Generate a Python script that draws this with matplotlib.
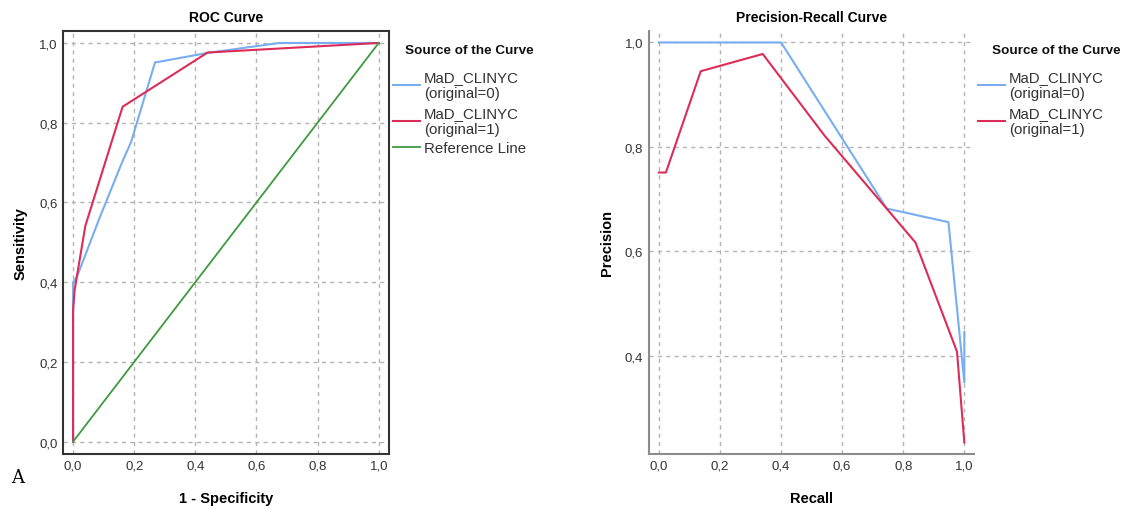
import matplotlib
matplotlib.use("Agg")
import matplotlib.pyplot as plt

plt.rcParams['font.family'] = ['Liberation Sans', 'DejaVu Sans']

# ---------------- data ----------------
roc_blue_x = [0.0, 0.0, 0.014, 0.085, 0.16, 0.19, 0.268, 0.44, 0.675, 1.0]
roc_blue_y = [0.0, 0.40, 0.416, 0.558, 0.70, 0.752, 0.951, 0.975, 1.0, 1.0]
roc_red_x = [0.0, 0.0, 0.005, 0.04, 0.162, 0.44, 1.0]
roc_red_y = [0.0, 0.33, 0.38, 0.541, 0.840, 0.976, 1.0]
ref_x = [0.0, 1.0]
ref_y = [0.0, 1.0]

pr_blue_x = [0.0, 0.40, 0.746, 0.948, 1.0, 1.0]
pr_blue_y = [1.0, 1.0, 0.682, 0.656, 0.349, 0.446]
pr_red_x = [0.0, 0.023, 0.137, 0.34, 0.542, 0.84, 0.976, 1.0]
pr_red_y = [0.751, 0.751, 0.945, 0.978, 0.822, 0.617, 0.408, 0.234]

ticks_roc = [0.0, 0.2, 0.4, 0.6, 0.8, 1.0]
tick_labels_roc = ["0,0", "0,2", "0,4", "0,6", "0,8", "1,0"]
yticks_pr = [0.4, 0.6, 0.8, 1.0]
ytick_labels_pr = ["0,4", "0,6", "0,8", "1,0"]

label_blue = "MaD_CLINYC\n(original=0)"
label_red = "MaD_CLINYC\n(original=1)"
label_ref = "Reference Line"
legend_title = "Source of the Curve"

c_blue = "#78aef0"
c_red = "#dc2c58"
c_green = "#3f9a3f"
c_grid = "#b4b4b4"

W, H = 1122, 510
fig = plt.figure(figsize=(W / 100, H / 100), dpi=100)

def style(ax):
    ax.grid(True, color=c_grid, linestyle=(0, (3, 3)), linewidth=1.0)
    ax.set_axisbelow(True)
    ax.tick_params(length=0, labelsize=9.5, colors="#333333", pad=4)

def legend(ax, handles_x, title_x):
    leg = ax.legend(loc="upper left",
                    bbox_to_anchor=(handles_x / W, 1 - 71 / H),
                    bbox_transform=fig.transFigure, frameon=False,
                    fontsize=10.8, handlelength=1.8, handletextpad=0.25,
                    labelspacing=0.35, borderaxespad=0, borderpad=0)
    for t in leg.get_texts():
        t.set_linespacing(1.22)
        t.set_color("#333333")
    fig.text(title_x / W, 1 - 51 / H, legend_title, fontsize=9.7,
             fontweight="bold", ha="left", va="center", color="#111111")
    return leg

# ROC
ax1 = fig.add_axes([63 / W, 55 / H, 325.5 / W, 423 / H])
ax1.plot(roc_blue_x, roc_blue_y, color=c_blue, lw=1.5, label=label_blue)
ax1.plot(roc_red_x, roc_red_y, color=c_red, lw=1.5, label=label_red)
ax1.plot(ref_x, ref_y, color=c_green, lw=1.3, label=label_ref)
ax1.set_xlim(-0.033, 1.032)
ax1.set_ylim(-0.031, 1.030)
ax1.set_xticks(ticks_roc)
ax1.set_xticklabels(tick_labels_roc)
ax1.set_yticks(ticks_roc)
ax1.set_yticklabels(tick_labels_roc)
style(ax1)
for s in ax1.spines.values():
    s.set_color("#333333")
    s.set_linewidth(1.5)
ax1.set_title("ROC Curve", fontsize=10, fontweight="bold", pad=7)
ax1.set_xlabel("1 - Specificity", fontsize=10.5, fontweight="bold", labelpad=14)
ax1.set_ylabel("Sensitivity", fontsize=10.5, fontweight="bold", labelpad=8)
legend(ax1, 393, 405)
fig.text(18 / W, 1 - 478 / H, "A", fontsize=13, family="DejaVu Serif",
         va="center", ha="center")

# PR
ax2 = fig.add_axes([648.8 / W, 55 / H, 325 / W, 423 / H])
ax2.plot(pr_blue_x, pr_blue_y, color=c_blue, lw=1.5, label=label_blue)
ax2.plot(pr_red_x, pr_red_y, color=c_red, lw=1.5, label=label_red)
ax2.set_xlim(-0.033, 1.031)
ax2.set_ylim(0.212, 1.022)
ax2.set_xticks(ticks_roc)
ax2.set_xticklabels(tick_labels_roc)
ax2.set_yticks(yticks_pr)
ax2.set_yticklabels(ytick_labels_pr)
style(ax2)
ax2.spines["top"].set_visible(False)
ax2.spines["right"].set_visible(False)
for k in ("left", "bottom"):
    ax2.spines[k].set_color("#8c8c8c")
    ax2.spines[k].set_linewidth(1.5)
ax2.set_title("Precision-Recall Curve", fontsize=10, fontweight="bold", pad=7)
ax2.set_xlabel("Recall", fontsize=10.5, fontweight="bold", labelpad=14)
ax2.set_ylabel("Precision", fontsize=10.5, fontweight="bold", labelpad=8)
legend(ax2, 978, 992)

fig.savefig("out.png", dpi=100)
